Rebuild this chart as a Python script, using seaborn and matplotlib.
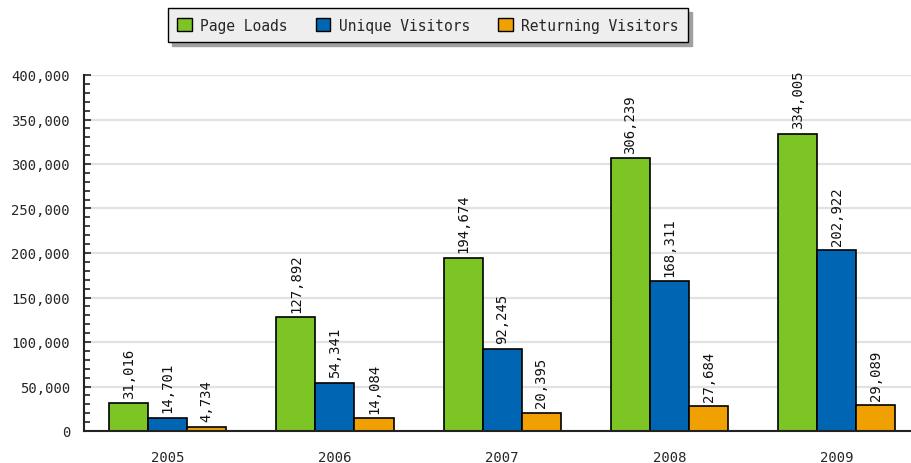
import pandas as pd
import seaborn as sns
import matplotlib.pyplot as plt
from matplotlib.ticker import FuncFormatter, MultipleLocator

# Data
years = ["2005", "2006", "2007", "2008", "2009"]
page_loads = [31016, 127892, 194674, 306239, 334005]
unique_visitors = [14701, 54341, 92245, 168311, 202922]
returning_visitors = [4734, 14084, 20395, 27684, 29089]
series_names = ["Page Loads", "Unique Visitors", "Returning Visitors"]
colors = ["#7dc425", "#0066b3", "#f0a000"]

df = pd.DataFrame({
    "year": years * 3,
    "series": [s for s in series_names for _ in years],
    "value": page_loads + unique_visitors + returning_visitors,
})

sns.set_style("white")
plt.rcParams["font.family"] = ["DejaVu Sans Mono"]

fig = plt.figure(figsize=(9.12, 4.64), dpi=100)
ax = fig.add_axes([84 / 912, 32 / 464, 828 / 912, 356 / 464])

sns.barplot(
    data=df, x="year", y="value", hue="series",
    order=years, hue_order=series_names,
    palette=dict(zip(series_names, colors)),
    width=0.7, edgecolor="black", linewidth=1.2,
    saturation=1, ax=ax, legend=False,
)

for cont in ax.containers:
    ax.bar_label(
        cont, labels=[f"{int(v.get_height()):,}" for v in cont],
        rotation=90, padding=4, fontsize=10, color="#111111",
    )

ax.set_ylim(0, 400000)
ax.set_xlim(-0.5, -0.5 + 828 / 167.3)
ax.yaxis.set_major_locator(MultipleLocator(50000))
ax.yaxis.set_minor_locator(MultipleLocator(10000))
ax.yaxis.set_major_formatter(FuncFormatter(lambda v, p: f"{int(v):,}"))
ax.grid(axis="y", color="#e2e2e2", linewidth=1.6)
ax.set_axisbelow(True)

# category labels centered, ticks on slot boundaries
ax.set_xticks(range(len(years)))
ax.set_xticklabels(years, fontsize=10)
ax.tick_params(axis="x", length=0, pad=14)
ax.set_xticks([i + 0.5 for i in range(len(years) - 1)], minor=True)
ax.tick_params(axis="x", which="minor", direction="in", length=6, width=1.2, color="#222222")
ax.tick_params(axis="y", which="major", direction="in", length=5, width=1.2,
               color="#222222", labelsize=10, pad=10, left=True)
ax.tick_params(axis="y", which="minor", direction="in", length=4, width=1.2,
               color="#222222", left=True)

ax.set_xlabel("")
ax.set_ylabel("")
for side in ["top", "right"]:
    ax.spines[side].set_visible(False)
for side in ["left", "bottom"]:
    ax.spines[side].set_color("#222222")
    ax.spines[side].set_linewidth(1.5)

handles = [plt.Rectangle((0, 0), 1, 1, facecolor=c, edgecolor="black", linewidth=1) for c in colors]
fig.legend(
    handles, series_names, ncol=3, loc="center",
    bbox_to_anchor=(428 / 912, 1 - 26 / 464),
    fontsize=10.5, frameon=True, fancybox=False,
    facecolor="#eeeeee", edgecolor="black", framealpha=1,
    shadow={"color": "#a0a0a0", "alpha": 1, "ox": 3, "oy": -3},
    handlelength=1.0, handleheight=1.0, handletextpad=0.6,
    columnspacing=1.9, borderpad=0.65,
)

fig.savefig("out.png", dpi=100)
